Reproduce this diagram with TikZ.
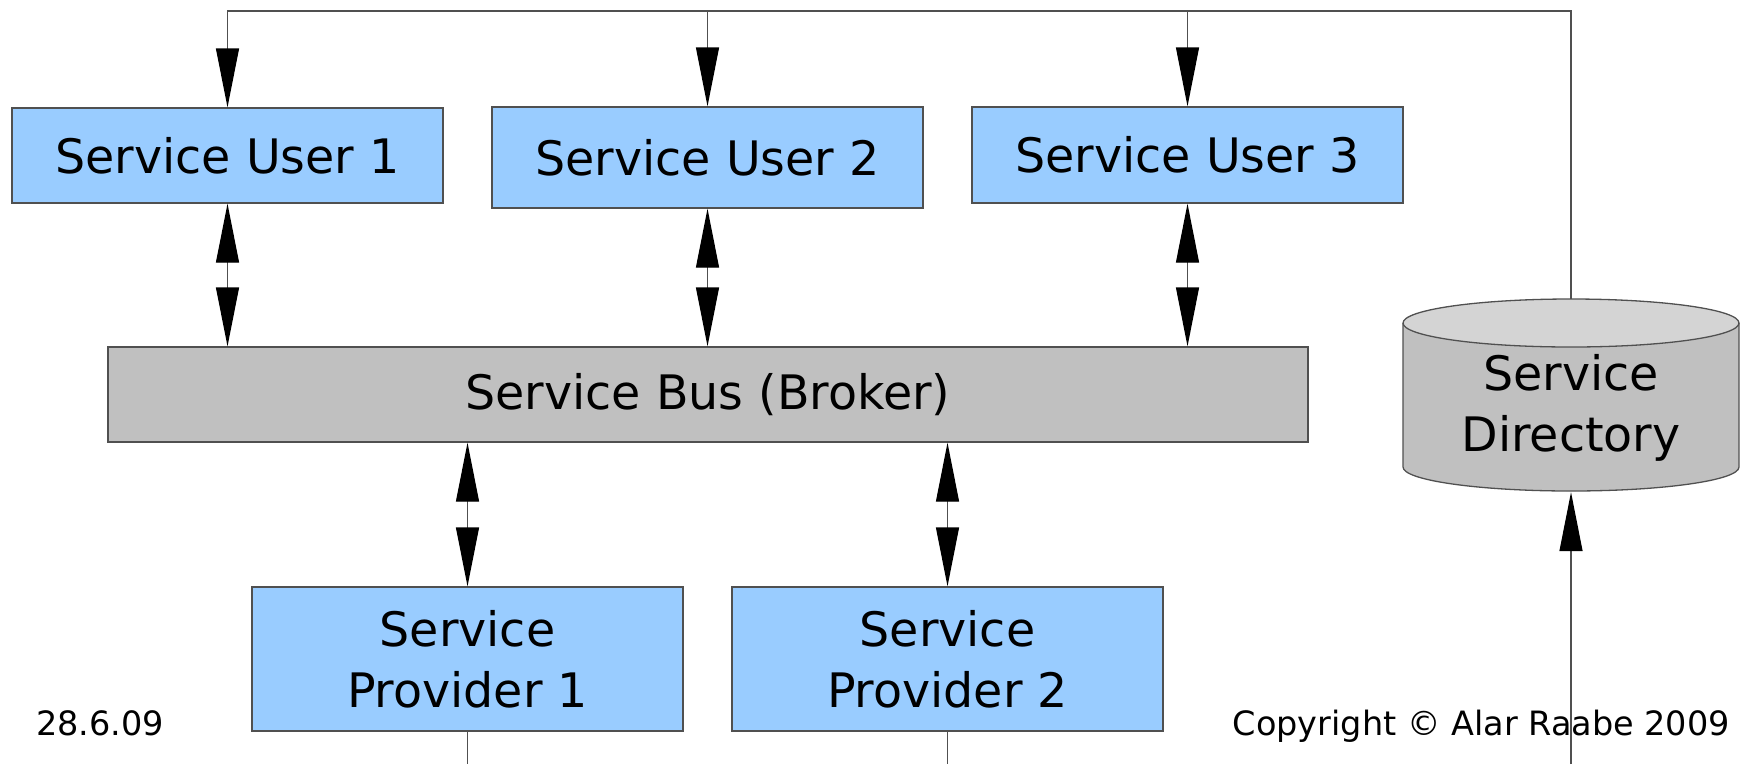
\documentclass[tikz,border=0pt]{standalone}
\usepackage{fontspec}
\setmainfont{DejaVu Sans}
\usetikzlibrary{arrows.meta,positioning}
\definecolor{userblue}{HTML}{99CCFF}
\definecolor{busgray}{HTML}{C0C0C0}
\definecolor{drumtop}{HTML}{D4D4D4}
\definecolor{edge}{HTML}{505050}
\tikzset{
  boxstyle/.style={draw=edge, line width=1.3pt, fill=userblue, inner sep=0pt,
    minimum width=431pt, font=\fontsize{47.5}{61}\selectfont, align=center},
  busstyle/.style={draw=edge, line width=1.3pt, fill=busgray, inner sep=0pt,
    minimum width=1200pt, minimum height=95pt, font=\fontsize{47.5}{61}\selectfont},
  wire/.style={draw=edge, line width=1.3pt},
  note/.style={inner sep=0pt, font=\fontsize{33.5}{40}\selectfont},
  >={Triangle[length=59pt,width=23pt,color=black]}
}
\begin{document}
\begin{tikzpicture}[x=1pt,y=-1pt]
\useasboundingbox (0,0) rectangle (1742,764);

% service users
\node[boxstyle, minimum height=95pt]  (u1) at (227.5,155.5) {Service User 1};
\node[boxstyle, minimum height=101pt] (u2) at (707.5,157.5) {Service User 2};
\node[boxstyle, minimum height=96pt]  (u3) at (1187.5,155) {Service User 3};

% broker
\node[busstyle] (bus) at (708,394.5) {Service Bus (Broker)};

% service providers
\node[boxstyle, minimum height=144pt] (p1) at (467.5,659) {Service\\Provider 1};
\node[boxstyle, minimum height=144pt] (p2) at (947.5,659) {Service\\Provider 2};

% directory (drum)
\node[inner sep=0pt, minimum width=336pt, minimum height=193pt] (dir) at (1571,395.5) {};
\fill[busgray] (1403,323) rectangle (1739,467);
\fill[busgray] (1571,467) ellipse[x radius=168, y radius=24];
\draw[wire] (1403,323) -- (1403,467) arc[start angle=180, end angle=0, x radius=168, y radius=24] -- (1739,323);
\draw[wire, fill=drumtop] (1571,323) ellipse[x radius=168, y radius=24];
\node[inner sep=0pt, align=center, font=\fontsize{47.5}{61}\selectfont] (dirtext) at (1571,408) {Service\\Directory};

% lookup lines from the directory to the users
\coordinate (j1) at (227.5,11);
\draw[wire, ->] (dir.north) |- (j1) -- (u1.north);
\draw[wire, ->] (u2.north |- j1) -- (u2.north);
\draw[wire, ->] (u3.north |- j1) -- (u3.north);

% users <-> broker
\draw[wire, <->] (u1.south) -- (u1.south |- bus.north);
\draw[wire, <->] (u2.south) -- (u2.south |- bus.north);
\draw[wire, <->] (u3.south) -- (u3.south |- bus.north);

% broker <-> providers
\draw[wire, <->] (p1.north |- bus.south) -- (p1.north);
\draw[wire, <->] (p2.north |- bus.south) -- (p2.north);

% lines leaving the lower edge
\coordinate (b1) at (467.5,764);
\coordinate (b2) at (947.5,764);
\coordinate (b3) at (1571,764);
\draw[wire] (p1.south) -- (b1);
\draw[wire] (p2.south) -- (b2);
\draw[wire, ->] (b3) -- (dir.south);

% footer
\node[note, anchor=base west] (date) at (36,735) {28.6.09};
\node[note, anchor=base east] (copy) at (1730,735) {Copyright © Alar Raabe 2009};
\end{tikzpicture}
\end{document}
